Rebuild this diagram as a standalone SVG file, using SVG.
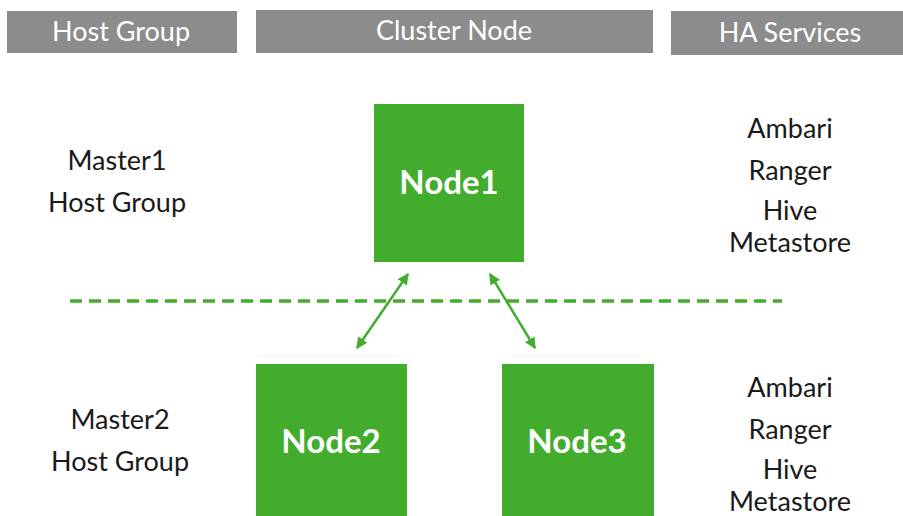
<svg xmlns="http://www.w3.org/2000/svg" width="903" height="516" viewBox="0 0 903 516">
<style>
.hdr{fill:#8c8c8c}
.hdrt{fill:#fff;font-family:Lato,"Open Sans",sans-serif;font-size:27px;text-anchor:middle}
.node{fill:#42ad2c}
.nodet{fill:#fff;font-family:Lato,"Open Sans",sans-serif;font-size:33px;font-weight:bold;text-anchor:middle}
.lbl{fill:#1a1a1a;font-family:Lato,"Open Sans",sans-serif;font-size:27px;text-anchor:middle}
.conn{stroke:#42ad2c;stroke-width:2.5;fill:none}
</style>
<defs>
<marker id="ah" viewBox="0 0 10 10" refX="9" refY="5" markerWidth="4.5" markerHeight="4.5" orient="auto-start-reverse" markerUnits="strokeWidth">
<path d="M0,0 L10,5 L0,10 z" fill="#42ad2c"/>
</marker>
</defs>
<rect width="903" height="516" fill="#fff"/>
<g id="headers">
<rect class="hdr" x="7" y="11" width="230" height="42"/>
<text class="hdrt" x="121" y="41">Host Group</text>
<rect class="hdr" x="256" y="10" width="397" height="43"/>
<text class="hdrt" x="454" y="40">Cluster Node</text>
<rect class="hdr" x="671" y="11" width="232" height="44"/>
<text class="hdrt" x="790" y="42">HA Services</text>
</g>
<g id="labels-left">
<text class="lbl" x="117" y="170">Master1</text>
<text class="lbl" x="117" y="212">Host Group</text>
<text class="lbl" x="120" y="429">Master2</text>
<text class="lbl" x="120" y="471">Host Group</text>
</g>
<g id="labels-right">
<text class="lbl" x="790" y="138">Ambari</text>
<text class="lbl" x="790" y="180">Ranger</text>
<text class="lbl" x="790" y="220">Hive</text>
<text class="lbl" x="790" y="252">Metastore</text>
<text class="lbl" x="790" y="397">Ambari</text>
<text class="lbl" x="790" y="439">Ranger</text>
<text class="lbl" x="790" y="479">Hive</text>
<text class="lbl" x="790" y="511">Metastore</text>
</g>
<g id="node1">
<rect class="node" x="374" y="104" width="150" height="158"/>
<text class="nodet" x="449" y="194">Node1</text>
</g>
<g id="node2">
<rect class="node" x="256" y="364" width="151" height="152"/>
<text class="nodet" x="331" y="453">Node2</text>
</g>
<g id="node3">
<rect class="node" x="502" y="364" width="152" height="152"/>
<text class="nodet" x="577" y="453">Node3</text>
</g>
<g id="connectors">
<line x1="70" y1="301" x2="782" y2="301" stroke="#42ad2c" stroke-width="3.5" stroke-dasharray="12 7"/>
<line class="conn" x1="357" y1="348" x2="408" y2="274" marker-start="url(#ah)" marker-end="url(#ah)"/>
<line class="conn" x1="535" y1="348" x2="490" y2="274" marker-start="url(#ah)" marker-end="url(#ah)"/>
</g>
</svg>
